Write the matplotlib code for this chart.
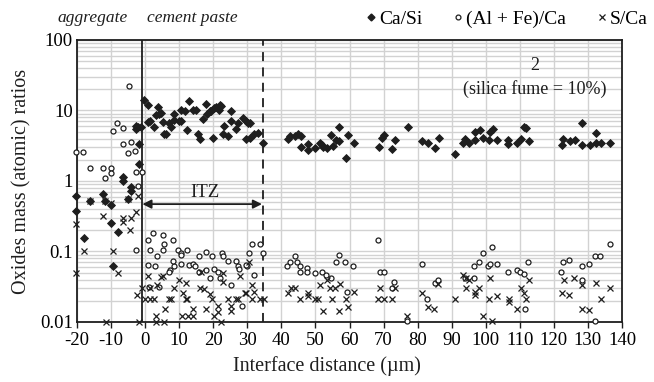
import numpy as np
import matplotlib
matplotlib.use('Agg')
import matplotlib.pyplot as plt
from matplotlib.lines import Line2D
from matplotlib.ticker import FixedLocator, LogLocator, NullFormatter

plt.rcParams['font.family'] = ['Liberation Serif', 'DejaVu Serif']
plt.rcParams['axes.unicode_minus'] = False

# Ca/Si ratios along the interface
ca_si_x = [-20.3, -20.3, -17.9, -16.2, -12.5, -11.7, -10.0, -10.0, -9.3, -8.1, -6.4, -6.4, -5.1, -4.1, -4.1,
           -2.7, -2.7, -2.2, -1.2, -1.9, -1.9,
           -0.2, 0.8, 1.3, 0.8, 2.5, 3.2, 3.7, 4.2, 4.7, 5.2, 5.5, 6.0, 7.1, 7.6, 8.6, 8.6, 9.8, 10.6, 10.6, 11.6,
           12.4, 12.8, 14.0, 15.0, 15.5, 16.0, 16.9, 17.9, 18.1, 18.9, 19.4, 19.9, 20.1, 20.9, 21.6, 22.1, 22.4,
           22.8, 23.3, 24.3, 25.3, 25.3, 26.8, 27.2, 28.7, 29.5, 30.2, 30.7, 29.5, 30.9, 32.1, 33.1, 34.6,
           41.9, 42.6, 43.9, 44.9, 45.9, 45.9, 47.8, 47.8, 49.8, 51.3, 51.8, 52.2, 53.4, 54.7, 55.2, 56.0, 56.9,
           56.9, 58.9, 59.6, 61.3, 68.7, 69.4, 70.1, 72.6, 73.3, 77.2, 81.2, 83.1, 85.1, 86.4, 91.0, 93.2, 93.9,
           95.2, 96.9, 96.9, 98.3, 99.3, 101.1, 101.3, 102.1, 103.4, 106.6, 106.6, 109.3, 110.3, 111.3, 111.9,
           112.8, 122.4, 122.8, 124.6, 126.3, 128.2, 128.2, 130.5, 132.4, 132.4, 133.8, 136.6]
ca_si_y = [0.61, 0.37, 0.157, 0.52, 0.66, 0.52, 0.45, 0.25, 0.062, 0.19, 1.15, 1.0, 0.55, 0.81, 0.71,
           6.1, 5.5, 5.8, 5.8, 3.4, 1.76,
           13.9, 11.8, 7.0, 6.8, 5.8, 8.5, 11.2, 8.9, 9.1, 6.8, 4.7, 4.7, 6.6, 5.8, 8.9, 7.3, 7.0, 7.0, 10.1, 9.7,
           5.3, 13.5, 10.1, 10.1, 4.6, 3.9, 7.6, 12.5, 8.9, 9.7, 9.7, 4.1, 10.7, 11.2, 10.1, 11.9, 11.6,
           4.6, 6.0, 4.3, 9.7, 7.0, 5.5, 6.6, 7.8, 7.0, 6.6, 6.6, 4.0, 4.1, 4.7, 4.8, 3.5,
           3.9, 4.4, 4.3, 4.6, 4.3, 3.07, 3.33, 2.75, 2.97, 3.5, 3.23, 3.07, 2.9, 4.45, 3.14, 3.87, 3.72,
           5.8, 2.11, 4.45, 3.5, 3.07, 4.13, 4.45, 2.84, 3.87, 5.8, 3.72, 3.41, 2.97, 4.13, 2.42, 3.41, 4.0,
           3.41, 3.79, 4.95, 5.33, 4.13, 3.79, 4.95, 5.5, 3.79, 3.87, 3.33, 3.5, 4.0, 5.8, 5.67,
           3.67, 3.23, 4.0, 3.67, 3.87, 6.66, 3.23, 3.23, 4.8, 3.41, 3.41, 3.5]

# (Al + Fe)/Ca ratios
alfe_ca_x = [-20.3, -18.1, -16.2, -12.5, -11.7, -10.0, -10.0, -9.3, -8.4, -6.6, -6.6, -5.1, -4.1, -2.9, -2.6,
             -2.2, -0.9, -4.6, -2.7,
             0.8, 2.4, 5.2, 5.4, 8.1, 1.3, 3.4, 5.2, 9.6, 10.6, 12.4, 15.8, 17.9, 19.7, 22.6, 23.0, 24.3, 26.8,
             27.2, 29.9, 30.5, 31.5, 33.8, 34.6, 0.8, 3.0, 7.4, 8.6, 10.6, 12.8, 14.0, 14.5, 15.8, 17.9, 18.9,
             20.1, 21.4, 22.1, 25.3, 27.5, 29.5, 32.1, 28.5, 4.0, 6.9, 1.1, 8.1, 10.6,
             41.6, 42.4, 43.9, 44.6, 45.6, 45.6, 47.6, 47.6, 49.8, 51.8, 53.0, 54.7, 56.0, 56.9, 58.6, 61.1, 59.3,
             68.4, 68.9, 70.1, 73.0, 72.6, 76.9, 81.2, 82.8, 85.1, 86.1, 96.6, 98.1, 99.1, 100.8, 101.3, 101.8,
             103.2, 96.6, 93.9, 106.6, 109.1, 110.1, 111.1, 111.6, 112.5, 122.1, 122.8, 124.3, 128.2, 128.2,
             130.2, 132.2, 133.6, 136.4, 132.2]
alfe_ca_y = [2.62, 2.54, 1.54, 1.54, 1.12, 1.54, 1.28, 5.2, 6.6, 5.67, 3.33, 2.48, 3.6, 2.7, 1.34,
             0.85, 1.34, 22.6, 0.105,
             0.144, 0.184, 0.174, 0.129, 0.144, 0.105, 0.085, 0.105, 0.105, 0.095, 0.105, 0.085, 0.097, 0.085,
             0.095, 0.085, 0.073, 0.073, 0.062, 0.062, 0.095, 0.127, 0.127, 0.095, 0.064, 0.062, 0.055, 0.062,
             0.067, 0.064, 0.067, 0.062, 0.051, 0.055, 0.042, 0.057, 0.051, 0.042, 0.033, 0.057, 0.064, 0.046,
             0.017, 0.031, 0.051, 0.031, 0.073, 0.09,
             0.062, 0.07, 0.087, 0.07, 0.062, 0.051, 0.059, 0.051, 0.05, 0.051, 0.046, 0.042, 0.07, 0.09, 0.07,
             0.062, 0.0263, 0.144, 0.051, 0.051, 0.037, 0.030, 0.0104, 0.067, 0.021, 0.036, 0.04, 0.062, 0.07,
             0.095, 0.062, 0.067, 0.114, 0.067, 0.042, 0.042, 0.051, 0.055, 0.051, 0.048, 0.0155, 0.07, 0.051,
             0.07, 0.076, 0.062, 0.04, 0.067, 0.087, 0.085, 0.127, 0.0104]

# S/Ca ratios
s_ca_x = [-16.2, -11.7, -10.0, -5.1, -2.2, -20.3, -12.5, -6.4, -6.4, -4.1, -2.6, -4.4, -17.9, -9.3, -20.3,
          -8.1, -11.5, -1.9, -2.5,
          -0.9, 1.5, 0.8, 0.1, 1.3, 2.7, 3.4, 5.2, 5.7, 3.2, 3.2, 5.4, 7.1, 7.6, 8.6, 9.9, 11.1, 11.9, 11.9,
          10.9, 12.5, 14.0, 14.2, 16.0, 17.4, 17.9, 19.1, 19.7, 20.1, 21.4, 21.4, 22.4, 23.0, 22.8, 24.3, 25.3,
          25.3, 26.8, 27.2, 27.8, 29.2, 29.7, 31.5, 31.5, 30.5, 32.1, 33.8, 34.8, 16.5, 4.7, 12.2,
          41.9, 42.9, 43.9, 45.6, 47.8, 47.8, 49.8, 50.8, 51.3, 52.1, 53.4, 54.4, 55.7, 55.0, 57.1, 56.9, 58.9,
          59.6, 61.3, 69.1, 68.4, 70.1, 72.6, 73.3, 76.9, 81.2, 83.1, 84.8, 86.1, 91.0, 93.2, 94.2, 95.2, 94.2,
          96.9, 96.9, 98.1, 99.1, 101.1, 101.3, 101.8, 103.4, 106.9, 106.9, 109.3, 110.3, 111.1, 111.9, 112.8,
          122.4, 124.3, 123.0, 126.0, 128.2, 128.2, 130.2, 132.4, 133.8, 136.6]
s_ca_y = [0.52, 0.52, 0.49, 0.55, 0.61, 0.245, 0.32, 0.30, 0.26, 0.30, 0.36, 0.2, 0.10, 0.10, 0.05,
          0.05, 0.01, 0.01, 0.024,
          0.030, 0.030, 0.045, 0.021, 0.021, 0.021, 0.033, 0.045, 0.0155, 0.0122, 0.01, 0.01, 0.021, 0.021,
          0.030, 0.04, 0.026, 0.036, 0.021, 0.0122, 0.0122, 0.0122, 0.0155, 0.030, 0.029, 0.0155, 0.025, 0.021,
          0.0122, 0.017, 0.0137, 0.01, 0.049, 0.037, 0.021, 0.017, 0.0144, 0.021, 0.021, 0.045, 0.026, 0.026,
          0.021, 0.033, 0.07, 0.027, 0.021, 0.021, 0.051, 0.044, 0.021,
          0.026, 0.030, 0.030, 0.021, 0.026, 0.023, 0.021, 0.021, 0.033, 0.0144, 0.04, 0.030, 0.030, 0.021,
          0.035, 0.0144, 0.021, 0.0165, 0.027, 0.030, 0.021, 0.021, 0.021, 0.030, 0.0122, 0.026, 0.0165, 0.0155,
          0.035, 0.021, 0.046, 0.042, 0.04, 0.030, 0.027, 0.024, 0.030, 0.0122, 0.021, 0.042, 0.0104, 0.023,
          0.021, 0.019, 0.0155, 0.030, 0.026, 0.021, 0.04, 0.026, 0.024, 0.04, 0.042, 0.033, 0.0155, 0.0149,
          0.036, 0.021, 0.030]

yticks = [0.01, 0.1, 1, 10, 100]
ytick_labels = ['0.01', '0.1', '1', '10', '100']
xticks = list(range(-20, 141, 10))

ink = '#1e1e1e'
grid_col = '#d2d2d2'

fig = plt.figure(figsize=(6.54, 3.82), dpi=100)
ax = fig.add_axes([77 / 654, 1 - 322 / 382, 545 / 654, 282 / 382])
ax.set_yscale('log')
ax.set_xlim(-20, 140)
ax.set_ylim(0.01, 100)

ax.xaxis.set_major_locator(FixedLocator(xticks))
ax.yaxis.set_major_locator(FixedLocator(yticks))
ax.set_yticklabels(ytick_labels)
ax.yaxis.set_minor_locator(LogLocator(base=10, subs=np.arange(2, 10)))
ax.yaxis.set_minor_formatter(NullFormatter())
ax.grid(True, which='major', color=grid_col, lw=1.0)
ax.grid(True, which='minor', axis='y', color=grid_col, lw=1.0)
ax.set_axisbelow(True)

ax.tick_params(axis='x', which='major', direction='out', length=4, width=1, color=ink,
               labelsize=13.5, pad=3)
ax.tick_params(axis='y', which='both', length=0, labelsize=13.5, pad=3)
for s in ax.spines.values():
    s.set_color(ink)
    s.set_linewidth(1.3)

ax.plot(ca_si_x, ca_si_y, ls='none', marker='D', ms=3.8, mfc=ink, mec=ink, mew=0.6, clip_on=False, zorder=4)
ax.plot(alfe_ca_x, alfe_ca_y, ls='none', marker='o', ms=3.6, mfc='white', mec=ink, mew=0.9, clip_on=False, zorder=3)
ax.plot(s_ca_x, s_ca_y, ls='none', marker='x', ms=4.5, mec=ink, mew=0.9, clip_on=False, zorder=3)

# aggregate / paste boundary and end of the ITZ
ax.axvline(-1, color=ink, lw=1.3, zorder=2)
ax.axvline(34.5, color=ink, lw=1.3, ls=(0, (5, 3.5)), zorder=2)
ax.annotate('', xy=(34.3, 0.47), xytext=(-0.8, 0.47),
            arrowprops=dict(arrowstyle='<|-|>', color=ink, lw=1.3, mutation_scale=13,
                            shrinkA=0, shrinkB=0))
ax.text(17.5, 0.68, 'ITZ', ha='center', va='center', fontsize=13.5, color=ink)

ax.text(114.5, 43, '2', ha='center', va='center', fontsize=13, color=ink)
ax.text(114.5, 20, '(silica fume = 10%)', ha='center', va='center', fontsize=13, color=ink)

ax.text(-5, 1.05, 'aggregate', transform=ax.get_xaxis_transform(), ha='right', va='bottom',
        fontsize=12.5, style='italic', color=ink)
ax.text(0.5, 1.05, 'cement paste', transform=ax.get_xaxis_transform(), ha='left', va='bottom',
        fontsize=12.5, style='italic', color=ink)

handles = [
    Line2D([], [], ls='none', marker='D', ms=3.5, mfc=ink, mec=ink),
    Line2D([], [], ls='none', marker='o', ms=3.5, mfc='white', mec=ink, mew=0.9),
    Line2D([], [], ls='none', marker='x', ms=4.2, mec=ink, mew=0.9),
]
ax.legend(handles, ['Ca/Si', '(Al + Fe)/Ca', 'S/Ca'], ncol=3, loc='lower right',
          bbox_to_anchor=(1.05, 1.035), frameon=False, fontsize=14, handlelength=0.5,
          handletextpad=0.15, columnspacing=1.6, borderpad=0.1, borderaxespad=0)

ax.set_ylabel('Oxides mass (atomic) ratios', fontsize=14.5, color=ink, labelpad=6)
fig.text(0.5, 0.015, 'Interface distance (µm)', ha='center', va='bottom', fontsize=14.5, color=ink)

fig.savefig('out.png', dpi=100)
